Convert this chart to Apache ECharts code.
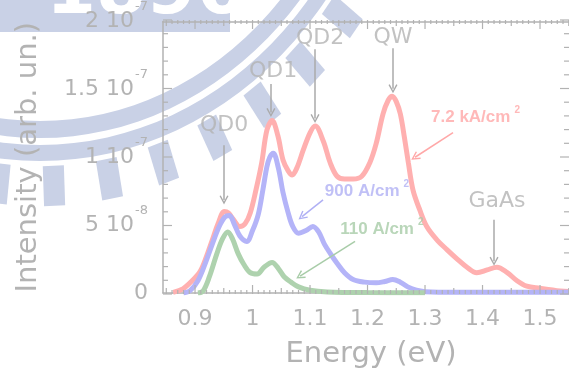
<!DOCTYPE html>
<html>
<head>
<meta charset="utf-8">
<script src="https://cdn.jsdelivr.net/npm/echarts@6/dist/echarts.min.js"></script>
<style>
  html, body { margin: 0; padding: 0; background: #fff; }
  #wrap { position: relative; width: 569px; height: 374px; }
  #c, #t { position: absolute; left: 0; top: 0; width: 569px; height: 374px; }
  #t { pointer-events: none; }
</style>
</head>
<body>
<div id="wrap"><div id="c"></div><div id="t"></div></div>
<script>
// Electroluminescence spectra at three injection current densities.
// Intensities are stored in units of 1e-8 (arb. un.).

const energyHigh = [0.862, 0.879, 0.895, 0.909, 0.920, 0.930, 0.940, 0.951, 0.958, 0.967, 0.978, 0.987, 0.996, 1.006, 1.016, 1.025, 1.034, 1.044, 1.053, 1.062, 1.069, 1.077, 1.088, 1.100, 1.109, 1.123, 1.135, 1.147, 1.160, 1.175, 1.190, 1.204, 1.215, 1.227, 1.236, 1.243, 1.250, 1.257, 1.264, 1.271, 1.279, 1.291, 1.303, 1.321, 1.338, 1.356, 1.373, 1.390, 1.408, 1.425, 1.443, 1.460, 1.477, 1.500, 1.535, 1.551];
const intensityHigh = [0.05, 0.3, 0.9, 1.6, 2.7, 3.9, 5.1, 6.0, 5.9, 5.4, 4.9, 5.1, 5.9, 7.6, 9.6, 12.0, 12.7, 11.6, 9.8, 9.0, 8.7, 9.2, 10.5, 11.8, 12.3, 11.2, 9.6, 8.6, 8.4, 8.4, 8.6, 9.6, 11.0, 13.2, 14.2, 14.5, 14.1, 13.2, 11.5, 9.6, 7.6, 6.1, 4.9, 3.9, 3.2, 2.5, 1.9, 1.5, 1.7, 1.9, 1.5, 0.9, 0.5, 0.35, 0.15, 0.1];

const energyMid = [0.880, 0.891, 0.905, 0.918, 0.930, 0.942, 0.952, 0.960, 0.968, 0.978, 0.990, 1.000, 1.010, 1.018, 1.025, 1.030, 1.036, 1.045, 1.053, 1.062, 1.070, 1.080, 1.093, 1.105, 1.115, 1.125, 1.137, 1.147, 1.160, 1.175, 1.195, 1.215, 1.230, 1.244, 1.257, 1.270, 1.285, 1.300, 1.350, 1.450, 1.551];
const intensityMid = [0.0, 0.15, 0.9, 2.2, 3.6, 4.9, 5.6, 5.7, 5.1, 4.2, 3.8, 4.6, 5.8, 7.6, 9.3, 10.0, 10.3, 9.2, 7.4, 5.9, 4.9, 4.4, 4.6, 4.9, 4.5, 3.6, 2.8, 2.2, 1.5, 1.0, 0.8, 0.75, 0.85, 1.0, 0.8, 0.45, 0.2, 0.1, 0.05, 0.05, 0.05];

const energyLow = [0.905, 0.914, 0.925, 0.938, 0.948, 0.957, 0.965, 0.975, 0.985, 0.996, 1.008, 1.020, 1.034, 1.045, 1.055, 1.067, 1.080, 1.100, 1.130, 1.200, 1.300];
const intensityLow = [0.0, 0.15, 1.2, 2.9, 4.0, 4.5, 4.0, 2.9, 2.1, 1.5, 1.4, 1.9, 2.25, 1.8, 1.2, 0.8, 0.45, 0.2, 0.08, 0.03, 0.02];

// Axis ticks and tick labels
const xTickValues = [0.9, 1.0, 1.1, 1.2, 1.3, 1.4, 1.5];
const yTickValues = [0, 5, 10, 15, 20];
const yTickMantissa = ['0', '5 10', '1 10', '1.5 10', '2 10'];
const yTickExponent = ['', '-8', '-7', '-7', '-7'];

// Peak annotations
const peakNames = ['QD0', 'QD1', 'QD2', 'QW', 'GaAs'];
const peakLabelE = [0.9504, 1.0357, 1.1174, 1.2443, 1.4252];
const peakLabelI = [12.34, 16.35, 18.76, 18.83, 6.79];
const peakArrowE = [0.9504, 1.0320, 1.1087, 1.2443, 1.4200];
const peakArrowFromI = [10.88, 15.40, 17.96, 18.03, 5.40];
const peakArrowToI = [6.86, 13.30, 12.85, 15.04, 2.34];

// Current-density annotations
const densityText = ['7.2 kA/cm', '900 A/cm', '110 A/cm'];
const densityLabelE = [1.3878, 1.199, 1.225];
const densityLabelI = [12.92, 7.52, 4.67];
const densityArrowFromE = [1.3487, 1.1226, 1.1783];
const densityArrowFromI = [11.82, 6.86, 3.80];
const densityArrowToE = [1.2826, 1.0861, 1.0826];
const densityArrowToI = [10.00, 5.62, 1.24];

const X_MIN = 0.8443;
const X_MAX = 1.5504;

const GREY = '#b3b3b3';
const AXIS_GREY = '#b2b2b2';
const WM = '#c9d1e6';
const FONT = 'DejaVu Sans';
const COLORS = ['#ffb0b0', '#b4b4f8', '#aed2ae'];
const LABEL_COLORS = ['#ffa8a8', '#b0b0f4', '#a8cca8'];
const ARROW_HEAD = 'path://M5,0 L10,9 L8.6,9.8 L5,3 L1.4,9.8 L0,9 Z';
const GRID = { left: 163, right: 0, top: 20, bottom: 80, containLabel: false };

function pairs(xs, ys) { return xs.map((x, i) => [x, ys[i]]); }

function xAxisDef(position, withLabels) {
  return {
    type: 'value', position: position, min: X_MIN, max: X_MAX,
    splitLine: { show: false },
    axisLine: { show: true, onZero: false, lineStyle: { color: AXIS_GREY, width: 1.5 } },
    axisTick: { show: false },
    axisLabel: withLabels ? {
      show: true, customValues: xTickValues, margin: 15, color: GREY, fontSize: 22, fontFamily: FONT,
      formatter: v => String(v)
    } : { show: false },
    name: withLabels ? 'Energy (eV)' : '',
    nameLocation: 'middle', nameGap: 47,
    nameTextStyle: { color: GREY, fontSize: 29, fontFamily: FONT, padding: [0, 0, 0, 10] }
  };
}

function yAxisDef(position, showLabels) {
  return {
    type: 'value', position: position, min: 0, max: 20, interval: 5,
    splitLine: { show: false },
    axisLine: { show: showLabels, lineStyle: { color: AXIS_GREY, width: 1.5 } },
    axisTick: { show: false },
    axisLabel: showLabels ? {
      show: true, margin: 15, color: GREY, fontFamily: FONT,
      formatter: v => {
        const i = yTickValues.indexOf(v);
        if (i < 0) return '';
        return yTickExponent[i] ? '{m|' + yTickMantissa[i] + '}{e|' + yTickExponent[i] + '}' : '{m|' + yTickMantissa[i] + '}';
      },
      rich: {
        m: { fontSize: 22, color: GREY, fontFamily: FONT },
        e: { fontSize: 13, color: GREY, fontFamily: FONT, padding: [0, 0, 30, 1] }
      }
    } : { show: false },
    name: showLabels ? 'Intensity (arb. un.)' : '',
    nameLocation: 'middle', nameGap: 120, nameRotate: 90,
    nameTextStyle: { color: GREY, fontSize: 29, fontFamily: FONT }
  };
}

// Background emblem: two rings with radial teeth, plus a banner
const emblem = [
  { type: 'ring', z: -10, shape: { cx: 0, cy: 0, r: 385, r0: 368 }, style: { fill: WM } },
  { type: 'ring', z: -10, shape: { cx: 0, cy: 0, r: 408, r0: 392 }, style: { fill: WM } }
];
for (let k = -6; k <= 12; k++) {
  const deg = 2.1 + 8.4 * k;
  emblem.push({
    type: 'rect', z: -10, rotation: deg * Math.PI / 180, originX: 0, originY: 0,
    shape: { x: -12, y: 413, width: 24, height: 40 }, style: { fill: WM }
  });
}
const backdrop = [
  { type: 'group', x: 40, y: -247, scaleX: 0.88, scaleY: 1, silent: true, children: emblem },
  { type: 'rect', z: -10, silent: true, shape: { x: 0, y: 0, width: 230, height: 32 }, style: { fill: WM } },
  { type: 'text', z: -9, silent: true, style: { text: '1896', x: 46, y: 30, fill: '#ffffff', font: 'bold 72px "DejaVu Sans"', verticalAlign: 'bottom' } }
];

const peakLabelData = peakNames.map((n, i) => ({
  value: [peakLabelE[i], peakLabelI[i]],
  label: { formatter: n, color: GREY, fontSize: 22, fontFamily: FONT }
}));
const densityLabelData = densityText.map((t, i) => ({
  value: [densityLabelE[i], densityLabelI[i]],
  label: {
    formatter: '{m|' + t + '}{s|2}',
    rich: {
      m: { fontSize: 17, fontWeight: 'bold', color: LABEL_COLORS[i], fontFamily: 'Liberation Sans' },
      s: { fontSize: 10, fontWeight: 'bold', color: LABEL_COLORS[i], fontFamily: 'Liberation Sans', padding: [0, 0, 14, 4] }
    }
  }
}));

const arrowData = peakArrowE.map((e, i) => ({
  coords: [[e, peakArrowFromI[i]], [e, peakArrowToI[i]]],
  lineStyle: { color: '#aaaaaa' }
})).concat(densityArrowFromE.map((e, i) => ({
  coords: [[e, densityArrowFromI[i]], [densityArrowToE[i], densityArrowToI[i]]],
  lineStyle: { color: LABEL_COLORS[i] }
})));

const chart = echarts.init(document.getElementById('c'));
chart.setOption({
  animation: false,
  backgroundColor: '#ffffff',
  grid: GRID,
  graphic: backdrop,
  xAxis: [xAxisDef('bottom', true), xAxisDef('top', false)],
  yAxis: [yAxisDef('left', true), yAxisDef('right', false)],
  series: [
    { type: 'line', name: '7.2 kA/cm2', data: pairs(energyHigh, intensityHigh), smooth: 0.35, showSymbol: false, z: 2,
      lineStyle: { color: COLORS[0], width: 5 } },
    { type: 'line', name: '900 A/cm2', data: pairs(energyMid, intensityMid), smooth: 0.35, showSymbol: false, z: 3,
      lineStyle: { color: COLORS[1], width: 5 } },
    { type: 'line', name: '110 A/cm2', data: pairs(energyLow, intensityLow), smooth: 0.35, showSymbol: false, z: 4,
      lineStyle: { color: COLORS[2], width: 5 } },
    { type: 'lines', coordinateSystem: 'cartesian2d', z: 5, silent: true,
      symbol: ['none', ARROW_HEAD], symbolSize: [8, 9],
      lineStyle: { width: 1.5, opacity: 1, curveness: 0 }, data: arrowData },
    { type: 'scatter', z: 6, silent: true, symbolSize: 0,
      label: { show: true, position: 'inside' },
      data: peakLabelData.concat(densityLabelData) }
  ]
});

// Inward tick marks on all four sides, drawn on a transparent layer sharing the same scales.
// Items: [x, y, side (0 bottom, 1 top, 2 left, 3 right), length in px]
const tickItems = [];
for (let k = 85; k <= 155; k++) {
  const len = k % 10 === 0 ? 9 : (k % 5 === 0 ? 6 : 4);
  tickItems.push([k / 100, 10, 0, len], [k / 100, 10, 1, len]);
}
for (let k = 0; k <= 20; k++) {
  const len = k % 5 === 0 ? 9 : 5;
  tickItems.push([1.0, k, 2, len], [1.0, k, 3, len]);
}
function renderTick(params, api) {
  const cs = params.coordSys;
  const side = api.value(2), len = api.value(3);
  let shape;
  if (side < 2) {
    const px = api.coord([api.value(0), 10])[0];
    const y0 = side === 0 ? cs.y + cs.height : cs.y;
    shape = { x1: px, y1: y0, x2: px, y2: side === 0 ? y0 - len : y0 + len };
  } else {
    const py = api.coord([1.0, api.value(1)])[1];
    const x0 = side === 2 ? cs.x : cs.x + cs.width;
    shape = { x1: x0, y1: py, x2: side === 2 ? x0 + len : x0 - len, y2: py };
  }
  return { type: 'line', shape: shape, style: { stroke: AXIS_GREY, lineWidth: 1.2 } };
}
const hiddenAxis = { axisLine: { show: false }, axisTick: { show: false }, axisLabel: { show: false }, splitLine: { show: false } };
const tickLayer = echarts.init(document.getElementById('t'));
tickLayer.setOption({
  animation: false,
  grid: GRID,
  xAxis: Object.assign({ type: 'value', min: X_MIN, max: X_MAX }, hiddenAxis),
  yAxis: Object.assign({ type: 'value', min: 0, max: 20, interval: 5 }, hiddenAxis),
  series: [{ type: 'custom', coordinateSystem: 'cartesian2d', silent: true, clip: false,
    renderItem: renderTick, data: tickItems }]
});
</script>
</body>
</html>
